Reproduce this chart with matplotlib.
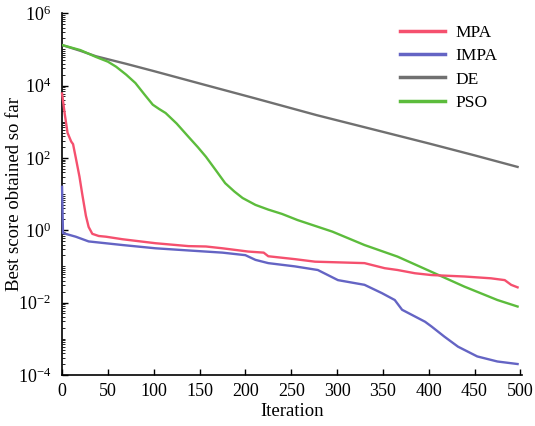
import matplotlib.pyplot as plt
from matplotlib.ticker import LogLocator, NullFormatter
import numpy as np

plt.rcParams['font.family'] = ['Liberation Serif', 'DejaVu Serif']
plt.rcParams['mathtext.fontset'] = 'stix'

# log10 of best score
mpa_it = [0, 3, 6, 10, 12, 15, 19, 22, 26, 29, 33, 40, 48, 66, 102, 138, 157, 175, 203, 220,
          225, 254, 276, 330, 352, 366, 385, 403, 439, 468, 483, 490, 497]
mpa_log = [3.78, 3.2, 2.69, 2.45, 2.38, 2.0, 1.48, 1.0, 0.4, 0.09, -0.1, -0.16, -0.18, -0.25, -0.36,
           -0.44, -0.45, -0.5, -0.59, -0.62, -0.72, -0.8, -0.87, -0.91, -1.05, -1.1, -1.19, -1.24,
           -1.28, -1.33, -1.38, -1.51, -1.58]

impa_it = [0, 1, 15, 29, 66, 102, 138, 175, 200, 211, 225, 254, 279, 301, 330, 349, 363, 371,
           396, 403, 417, 432, 453, 475, 497]
impa_log = [1.2, -0.08, -0.18, -0.31, -0.41, -0.5, -0.56, -0.62, -0.69, -0.82, -0.91, -1.0, -1.1,
            -1.38, -1.51, -1.74, -1.93, -2.2, -2.53, -2.66, -2.94, -3.22, -3.49, -3.63, -3.7]

de_it = [0, 20, 37, 70, 100, 157, 210, 278, 350, 400, 450, 497]
de_log = [5.12, 4.96, 4.81, 4.6, 4.4, 4.01, 3.65, 3.18, 2.72, 2.4, 2.07, 1.75]

pso_it = [0, 20, 37, 50, 59, 70, 80, 90, 99, 106, 113, 125, 138, 148, 157, 168, 178, 188, 197,
          211, 225, 240, 257, 295, 330, 366, 403, 439, 475, 497]
pso_log = [5.12, 4.98, 4.79, 4.66, 4.52, 4.3, 4.07, 3.75, 3.47, 3.35, 3.24, 2.95, 2.58, 2.3, 2.03,
           1.65, 1.3, 1.07, 0.89, 0.7, 0.57, 0.45, 0.28, -0.04, -0.41, -0.73, -1.15, -1.56, -1.93,
           -2.11]

fig = plt.figure(figsize=(5.35, 4.26), dpi=100)
ax = fig.add_axes([0.116, 0.12, 0.86, 0.849])

ax.plot(mpa_it, 10 ** np.array(mpa_log), color='#f5506e', lw=1.7, label='MPA',
        zorder=4, clip_on=False)
ax.plot(impa_it, 10 ** np.array(impa_log), color='#6464c4', lw=1.7, label='IMPA',
        zorder=4, clip_on=False)
ax.plot(de_it, 10 ** np.array(de_log), color='#707070', lw=1.7, label='DE', zorder=3)
ax.plot(pso_it, 10 ** np.array(pso_log), color='#5cbc3c', lw=1.7, label='PSO', zorder=3)

ax.set_yscale('log')
ax.set_ylim(1e-4, 1e6)
ax.set_xlim(0, 502)
ax.set_xticks(range(0, 501, 50))
ax.yaxis.set_major_locator(LogLocator(base=100))
ax.yaxis.set_minor_locator(LogLocator(base=10, subs=np.arange(1, 10) / 1.0, numticks=30))
ax.yaxis.set_minor_formatter(NullFormatter())
ax.tick_params(direction='in', labelsize=13, length=4, width=1)
ax.tick_params(axis='x', pad=6)
ax.tick_params(axis='y', pad=8)
ax.tick_params(which='minor', direction='in', length=2)

for s in ['top', 'right']:
    ax.spines[s].set_visible(False)
for s in ['left', 'bottom']:
    ax.spines[s].set_linewidth(1.2)

ax.set_xlabel('Iteration', fontsize=13.5)
ax.set_ylabel('Best score obtained so far', fontsize=13.5)
ax.xaxis.set_label_coords(0.5, -0.078)
ax.yaxis.set_label_coords(-0.084, 0.5)

leg = ax.legend(loc='upper right', bbox_to_anchor=(0.98, 1.01), frameon=False, fontsize=12.5,
                handlelength=2.6, labelspacing=0.4, handletextpad=0.6)
for line in leg.get_lines():
    line.set_linewidth(2.5)

plt.savefig('out.png', dpi=100)
plt.close()
